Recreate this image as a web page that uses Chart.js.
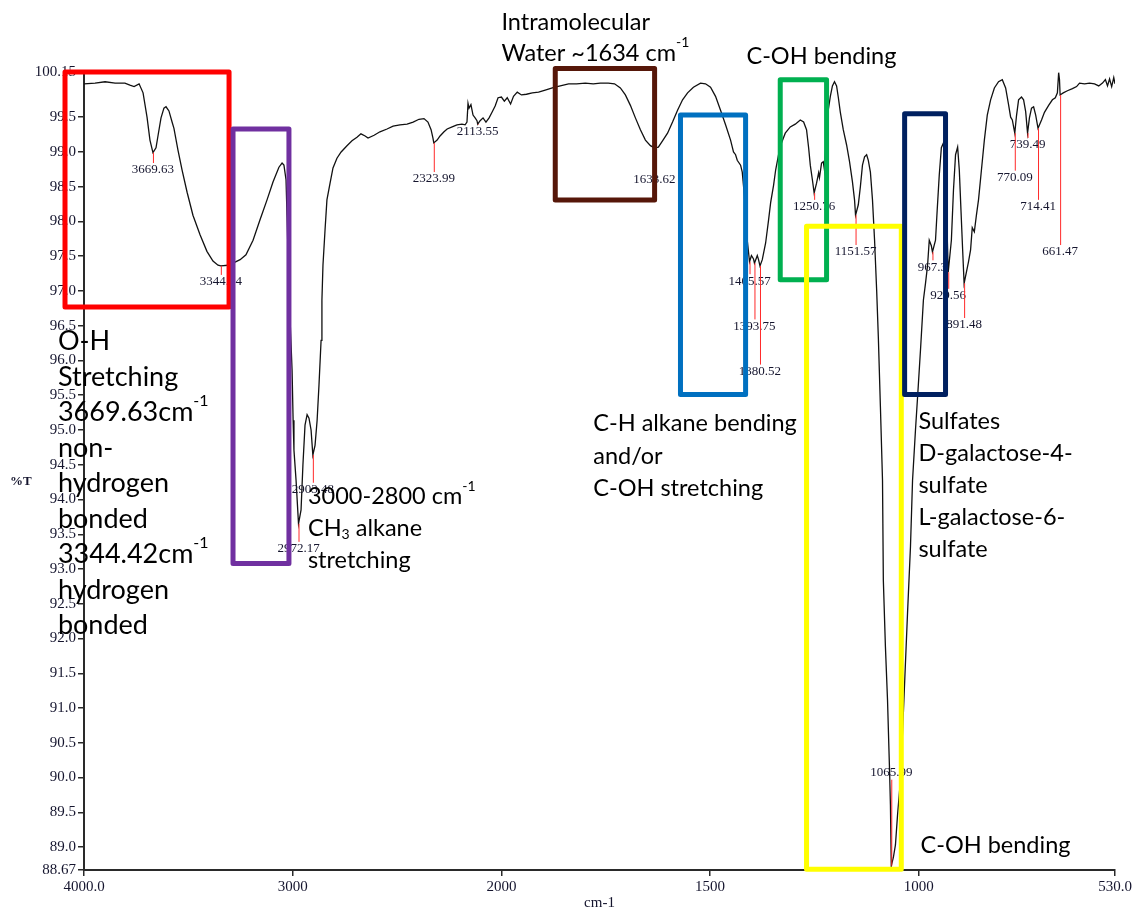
<!DOCTYPE html>
<html lang="en">
<head>
    <meta charset="UTF-8">
    <title>FTIR spectrum</title>
    <script src="https://cdn.jsdelivr.net/npm/chart.js"></script>
    <style>
        body { margin: 0; background: #fff; }
        .chart-container { width: 1137px; height: 914px; }
    </style>
</head>
<body>
<div class="chart-container">
    <canvas id="irChart" width="1137" height="914"></canvas>
</div>
<script>
// spectrum, wavenumber (cm-1) vs transmittance (%T)
const wavenumber = [
    4000, 3947, 3899, 3851, 3804, 3780, 3760, 3736, 3717, 3698,
    3684, 3669.63, 3655, 3645, 3631, 3617, 3607, 3593, 3578, 3569,
    3550, 3530, 3506, 3478, 3444, 3411, 3382, 3358, 3344.34, 3310,
    3286, 3252, 3224, 3190, 3157, 3123, 3094, 3066, 3051, 3042,
    3032, 3027, 3018, 3003, 2998, 2994, 2984, 2972.17, 2960, 2951,
    2941, 2931, 2922, 2912, 2903.48, 2893, 2883, 2874, 2864, 2860,
    2855, 2845, 2836, 2821, 2807, 2788, 2768, 2740, 2716, 2692,
    2673, 2653, 2639, 2610, 2582, 2548, 2519, 2486, 2452, 2423,
    2395, 2371, 2352, 2337, 2328, 2323.99, 2308, 2294, 2275, 2260,
    2236, 2213, 2189, 2174, 2165, 2160, 2155, 2146, 2136, 2126,
    2117, 2113.55, 2102, 2088, 2074, 2059, 2045, 2030, 2016, 2000,
    1993, 1986, 1978, 1971, 1962, 1952, 1940, 1926, 1911, 1895,
    1878, 1859, 1839, 1820, 1799, 1780, 1763, 1744, 1729, 1715,
    1703, 1691, 1679, 1667, 1655, 1643, 1633.62, 1624, 1614, 1602,
    1590, 1578, 1566, 1554, 1540, 1523, 1511, 1499, 1487, 1475,
    1463, 1451, 1444, 1439, 1435, 1427, 1423, 1418, 1415, 1411,
    1405.57, 1401, 1396, 1393.75, 1387, 1384, 1380.52, 1375, 1367, 1360,
    1355, 1348, 1343, 1336, 1329, 1320, 1308, 1296, 1284, 1276,
    1269, 1264, 1260, 1255, 1250.76, 1245, 1240, 1238, 1233, 1229,
    1226, 1221, 1217, 1212, 1207, 1202, 1197, 1193, 1188, 1181,
    1173, 1166, 1159, 1154, 1151.57, 1145, 1140, 1135, 1130, 1125,
    1121, 1116, 1111, 1106, 1101, 1097, 1092, 1087, 1085, 1080,
    1075, 1070, 1068, 1065.99, 1061, 1056, 1051, 1044, 1037, 1027,
    1020, 1015, 1008, 1003, 996, 989, 984, 979, 975, 970,
    967.3, 960, 956, 951, 946, 941, 936, 933, 929.56, 922,
    917, 912, 907, 903, 899, 895, 891.48, 881, 876, 872,
    867, 862, 857, 850, 843, 836, 828, 819, 809, 800,
    792, 785, 780, 776, 770.09, 766, 761, 754, 749, 744,
    739.49, 735, 730, 725, 720, 714.41, 706, 699, 689, 680,
    673, 668, 665, 663, 661.47, 654, 644, 632, 622, 615,
    603, 591, 579, 569, 560, 553, 548, 543, 538, 533,
    530
];
const transmittance = [
    99.98, 99.99, 100.01, 99.99, 99.99, 99.96, 99.94, 99.98, 99.85, 99.50,
    99.17, 98.99, 99.06, 99.24, 99.49, 99.63, 99.65, 99.59, 99.43, 99.34,
    99.03, 98.74, 98.42, 98.09, 97.81, 97.57, 97.43, 97.37, 97.36, 97.37,
    97.40, 97.45, 97.52, 97.73, 98.02, 98.31, 98.57, 98.78, 98.84, 98.81,
    98.60, 98.06, 97.01, 95.86, 95.14, 94.71, 94.28, 93.65, 93.85, 94.50,
    95.07, 95.22, 95.17, 95.00, 94.64, 94.78, 95.14, 95.65, 96.29, 96.87,
    97.37, 97.88, 98.31, 98.55, 98.77, 98.91, 99.00, 99.09, 99.16, 99.21,
    99.26, 99.23, 99.20, 99.24, 99.29, 99.33, 99.37, 99.39, 99.40, 99.43,
    99.47, 99.48, 99.43, 99.32, 99.20, 99.13, 99.17, 99.23, 99.29, 99.33,
    99.36, 99.39, 99.40, 99.39, 99.43, 99.70, 99.63, 99.68, 99.53, 99.49,
    99.45, 99.40, 99.45, 99.49, 99.43, 99.49, 99.57, 99.66, 99.78, 99.79,
    99.73, 99.78, 99.69, 99.80, 99.86, 99.82, 99.83, 99.85, 99.86, 99.89,
    99.92, 99.95, 99.98, 99.98, 99.99, 99.98, 99.99, 99.99, 99.98, 99.92,
    99.82, 99.67, 99.49, 99.32, 99.17, 99.09, 99.06, 99.07, 99.16, 99.27,
    99.43, 99.60, 99.75, 99.85, 99.93, 99.99, 99.98, 99.93, 99.80, 99.60,
    99.39, 99.17, 99.00, 98.96, 98.88, 98.81, 98.71, 98.38, 98.09, 97.73,
    97.42, 97.51, 97.46, 97.40, 97.51, 97.45, 97.36, 97.45, 97.69, 98.02,
    98.27, 98.52, 98.74, 98.96, 99.13, 99.27, 99.36, 99.40, 99.46, 99.43,
    99.32, 99.06, 98.81, 98.60, 98.41, 98.55, 98.70, 98.63, 98.84, 98.86,
    98.74, 99.32, 99.60, 99.80, 99.95, 100.01, 99.95, 99.79, 99.57, 99.32,
    99.10, 98.86, 98.57, 98.31, 98.09, 98.24, 98.50, 98.81, 98.93, 98.96,
    98.88, 98.71, 98.31, 97.73, 97.01, 96.34, 95.33, 94.28, 92.84, 91.88,
    91.12, 90.08, 89.60, 88.73, 88.85, 89.03, 89.46, 89.96, 90.93, 92.37,
    93.32, 94.28, 95.00, 95.47, 96.15, 96.87, 97.11, 97.37, 97.73, 97.65,
    97.56, 97.73, 98.16, 98.67, 99.06, 99.13, 98.74, 98.02, 97.27, 97.73,
    98.45, 98.96, 99.07, 98.74, 98.16, 97.59, 97.11, 97.42, 97.59, 97.91,
    97.85, 98.09, 98.31, 98.74, 99.17, 99.53, 99.75, 99.92, 100.01, 100.04,
    99.92, 99.68, 99.50, 99.46, 99.27, 99.52, 99.75, 99.79, 99.75, 99.58,
    99.27, 99.49, 99.63, 99.65, 99.53, 99.34, 99.46, 99.57, 99.67, 99.75,
    99.78, 99.85, 100.14, 100.04, 99.82, 99.85, 99.88, 99.91, 99.94, 99.99,
    99.98, 99.99, 99.98, 99.95, 99.99, 100.04, 99.95, 100.05, 99.94, 100.07,
    99.98
];

// axis ticks
const xTickValues = [4000, 3000, 2000, 1500, 1000, 530];
const xTickLabels = ['4000.0', '3000', '2000', '1500', '1000', '530.0'];
const yTickValues = [88.67, 89.0, 89.5, 90.0, 90.5, 91.0, 91.5, 92.0, 92.5, 93.0, 93.5, 94.0,
    94.5, 95.0, 95.5, 96.0, 96.5, 97.0, 97.5, 98.0, 98.5, 99.0, 99.5, 100.15];
const yTickLabels = ['88.67', '89.0', '89.5', '90.0', '90.5', '91.0', '91.5', '92.0', '92.5', '93.0', '93.5', '94.0',
    '94.5', '95.0', '95.5', '96.0', '96.5', '97.0', '97.5', '98.0', '98.5', '99.0', '99.5', '100.15'];

// picked peaks: wavenumber and the %T level where the number is printed
const peakWavenumbers = [3669.63, 3344.34, 2972.17, 2903.48, 2323.99, 2113.55, 1633.62, 1405.57, 1393.75, 1380.52,
    1250.76, 1151.57, 1065.99, 967.3, 929.56, 891.48, 739.49, 770.09, 714.41, 661.47];
const peakLabelLevels = [98.74, 97.13, 93.29, 94.14, 98.61, 99.29, 98.60, 97.14, 96.49, 95.84,
    98.21, 97.56, 90.07, 97.34, 96.93, 96.51, 99.10, 98.63, 98.21, 97.56];

// assignment boxes: [wavenumber left, wavenumber right], [%T top, %T bottom]
const bandColors = ['#ff0000', '#7030a0', '#561709', '#0070c0', '#00b050', '#ffff00', '#002060'];
const bandRanges = [[4091, 3305], [3286, 3018], [1871, 1633], [1571, 1415], [1332, 1221], [1269, 1042], [1034, 936]];
const bandLevels = [[100.15, 96.77], [99.33, 93.08], [100.20, 98.31], [99.53, 95.51], [100.04, 97.16], [97.93, 88.68], [99.55, 95.51]];

// assignment notes, anchored at [wavenumber, %T] of the first line
const notes = [
    { at: [4125, 96.27], lh: 35.5, size: 27, lines: [
        [['O-H']], [['Stretching']], [['3669.63cm'], ['-1', 'sup']], [['non-']], [['hydrogen']],
        [['bonded']], [['3344.42cm'], ['-1', 'sup']], [['hydrogen']], [['bonded']]] },
    { at: [2927, 94.04], lh: 32, size: 23.5, lines: [
        [['3000-2800 cm'], ['-1', 'sup']], [['CH'], ['3', 'sub'], [' alkane']], [['stretching']]] },
    { at: [2000, 100.87], lh: 31, size: 23.5, lines: [
        [['Intramolecular']], [['Water ~1634 cm'], ['-1', 'sup']]] },
    { at: [1413, 100.38], lh: 32, size: 23.5, lines: [[['C-OH bending']]] },
    { at: [1780, 95.09], lh: 32.5, size: 23.5, lines: [
        [['C-H alkane bending']], [['and/or']], [['C-OH stretching']]] },
    { at: [1001, 95.12], lh: 32, size: 23.5, lines: [
        [['Sulfates']], [['D-galactose-4-']], [['sulfate']], [['L-galactose-6-']], [['sulfate']]] },
    { at: [996, 89.03], lh: 32, size: 23.5, lines: [[['C-OH bending']]] }
];

// x axis with the usual FTIR scale change at 2000 cm-1 (double expansion below it)
const SPLIT = 2000;
class IrSplitScale extends Chart.LinearScale {
    static id = 'irsplit';
    static defaults = Chart.LinearScale.defaults;
    pos(v) {
        const hi = this.max;
        return v >= SPLIT ? (hi - v) / 2 : (hi - SPLIT) / 2 + (SPLIT - v);
    }
    buildTicks() {
        return xTickValues.map(v => ({ value: v }));
    }
    getPixelForValue(v) {
        return this.getPixelForDecimal(this.pos(v) / this.pos(this.min));
    }
    getValueForPixel(px) {
        const p = this.getDecimalForPixel(px) * this.pos(this.min);
        const half = (this.max - SPLIT) / 2;
        return p <= half ? this.max - 2 * p : SPLIT - (p - half);
    }
}
Chart.register(IrSplitScale);

const serif = 'Liberation Serif';
const tickInk = '#15152e';

const peakLabelPlugin = {
    id: 'peakLabels',
    afterDatasetsDraw(chart) {
        const { ctx, scales: { x, y } } = chart;
        ctx.save();
        ctx.font = '13px "' + serif + '"';
        ctx.textAlign = 'center';
        ctx.textBaseline = 'middle';
        peakWavenumbers.forEach((wn, i) => {
            const idx = wavenumber.indexOf(wn);
            const px = x.getPixelForValue(wn);
            const yPeak = y.getPixelForValue(transmittance[idx]);
            const yText = y.getPixelForValue(peakLabelLevels[i]);
            ctx.strokeStyle = '#ff2a2a';
            ctx.lineWidth = 1;
            ctx.beginPath();
            if (yText > yPeak) {
                ctx.moveTo(px + 0.5, yPeak);
                ctx.lineTo(px + 0.5, yText - 7);
            } else {
                ctx.moveTo(px + 0.5, yText + 7);
                ctx.lineTo(px + 0.5, yPeak);
            }
            ctx.stroke();
            ctx.fillStyle = tickInk;
            ctx.fillText(String(wn), px, yText);
        });
        ctx.restore();
    }
};

const bandBoxPlugin = {
    id: 'bandBoxes',
    afterDatasetsDraw(chart) {
        const { ctx, scales: { x, y } } = chart;
        ctx.save();
        ctx.lineWidth = 5;
        ctx.lineJoin = 'round';
        bandRanges.forEach((r, i) => {
            const x1 = x.getPixelForValue(r[0]);
            const x2 = x.getPixelForValue(r[1]);
            const y1 = y.getPixelForValue(bandLevels[i][0]);
            const y2 = y.getPixelForValue(bandLevels[i][1]);
            ctx.strokeStyle = bandColors[i];
            ctx.strokeRect(x1, y1, x2 - x1, y2 - y1);
        });
        ctx.restore();
    }
};

const notesPlugin = {
    id: 'notes',
    afterDraw(chart) {
        const { ctx, scales: { x, y } } = chart;
        ctx.save();
        ctx.textBaseline = 'middle';
        ctx.textAlign = 'left';
        ctx.fillStyle = '#000';
        notes.forEach(n => {
            const left = x.getPixelForValue(n.at[0]);
            const small = Math.round(n.size * 0.6);
            let top = y.getPixelForValue(n.at[1]);
            n.lines.forEach(line => {
                let cx = left;
                line.forEach(([txt, mode]) => {
                    let dy = 0;
                    if (mode === 'sup') { ctx.font = small + 'px Lato'; dy = -n.size * 0.43; }
                    else if (mode === 'sub') { ctx.font = small + 'px Lato'; dy = n.size * 0.26; }
                    else { ctx.font = n.size + 'px Lato'; }
                    ctx.fillText(txt, cx, top + dy);
                    cx += ctx.measureText(txt).width;
                });
                top += n.lh;
            });
        });
        // y axis caption
        ctx.font = 'bold 13px "' + serif + '"';
        ctx.fillStyle = tickInk;
        ctx.fillText('%T', 10, y.getPixelForValue(94.25));
        ctx.restore();
    }
};

const axisGrid = { drawOnChartArea: false, drawTicks: true, tickLength: 6, color: '#2a2a2a', lineWidth: 1.5 };
const axisBorder = { display: true, color: '#2a2a2a', width: 2 };

new Chart(document.getElementById('irChart').getContext('2d'), {
    type: 'line',
    data: {
        datasets: [{
            data: wavenumber.map((w, i) => ({ x: w, y: transmittance[i] })),
            borderColor: '#111',
            borderWidth: 1.3,
            pointRadius: 0,
            tension: 0,
            fill: false
        }]
    },
    options: {
        responsive: false,
        animation: false,
        devicePixelRatio: 1,
        layout: { padding: { top: 72, right: 22, left: 0, bottom: 0 } },
        plugins: { legend: { display: false }, tooltip: { enabled: false } },
        scales: {
            x: {
                type: 'irsplit',
                min: 530,
                max: 4000,
                afterFit(s) { s.height = 44; },
                grid: axisGrid,
                border: axisBorder,
                ticks: {
                    autoSkip: false, maxRotation: 0, padding: 2, color: tickInk,
                    font: { family: serif, size: 15 },
                    callback: v => xTickLabels[xTickValues.indexOf(v)]
                },
                title: {
                    display: true, text: 'cm-1', color: tickInk,
                    font: { family: serif, size: 15 }, padding: { top: 0, bottom: 2 }
                }
            },
            y: {
                min: 88.67,
                max: 100.15,
                afterFit(s) { s.width = 84; },
                afterBuildTicks(s) { s.ticks = yTickValues.map(v => ({ value: v })); },
                grid: axisGrid,
                border: axisBorder,
                ticks: {
                    autoSkip: false, padding: 2, color: tickInk,
                    font: { family: serif, size: 15 },
                    callback: v => yTickLabels[yTickValues.indexOf(v)]
                }
            }
        }
    },
    plugins: [peakLabelPlugin, bandBoxPlugin, notesPlugin]
});
</script>
</body>
</html>
